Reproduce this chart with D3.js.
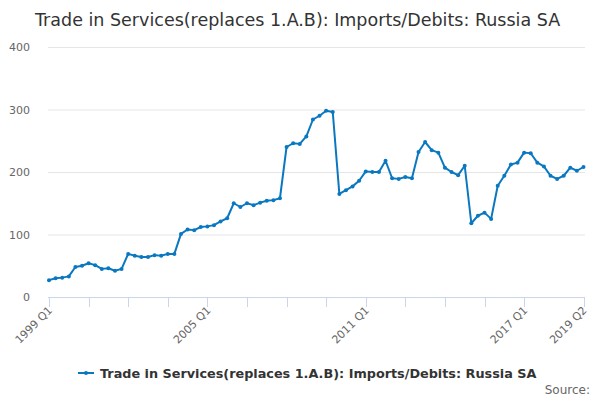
<!DOCTYPE html>
<html>
<head>
<meta charset="utf-8">
<script src="https://cdn.jsdelivr.net/npm/d3@7"></script>
<style>
  body { margin: 0; background: #fff; }
  text { font-family: "DejaVu Sans", sans-serif; }
</style>
</head>
<body>
<div id="chart"></div>
<script>
// quarterly series 1999 Q1 .. 2019 Q2
const startYear = 1999;
const values = [
  27, 30, 31, 33, 48, 50, 54, 51, 45, 46, 42, 45,
  69, 66, 64, 64, 67, 66, 69, 69, 101, 108, 107, 112,
  113, 115, 121, 126, 150, 144, 150, 147, 151, 154, 155, 158,
  240, 246, 245, 257, 284, 290, 298, 296, 165, 171, 177, 186,
  201, 200, 200, 218, 190, 189, 192, 190, 232, 248, 235, 231,
  207, 200, 195, 210, 118, 130, 135, 125, 178, 194, 212, 215,
  231, 230, 215, 209, 194, 189, 194, 207, 202, 208
];
const quarters = values.map((v, i) => (startYear + Math.floor(i / 4)) + " Q" + (i % 4 + 1));
const yTicks = [0, 100, 200, 300, 400];
const xTickIdx = [0, 6, 12, 18, 24, 30, 36, 42, 48, 54, 60, 66, 72, 81];
const xLabelIdx = [0, 24, 48, 72, 81];
const seriesName = "Trade in Services(replaces 1.A.B): Imports/Debits: Russia SA";
const color = "#0a78c0";

const width = 600, height = 400;
const margin = { top: 47, right: 15, bottom: 103, left: 48 };

const svg = d3.select("#chart").append("svg")
  .attr("width", width)
  .attr("height", height);

const x = d3.scaleLinear().domain([0, values.length - 1]).range([margin.left + 1, 583.5]);
const y = d3.scaleLinear().domain([0, 400]).range([height - margin.bottom, margin.top]);

// title
svg.append("text")
  .attr("x", 35).attr("y", 26)
  .attr("font-size", 17.5).attr("fill", "#333")
  .text(seriesName);

// grid + y labels
svg.append("g").selectAll("line").data(yTicks.filter(d => d > 0)).join("line")
  .attr("x1", margin.left).attr("x2", 585)
  .attr("y1", d => y(d) + 0.5).attr("y2", d => y(d) + 0.5)
  .attr("stroke", "#e6e6e6");

svg.append("g").selectAll("text").data(yTicks).join("text")
  .attr("x", 30).attr("y", d => y(d) + 4)
  .attr("text-anchor", "end")
  .attr("font-size", 11).attr("fill", "#666")
  .text(d => d);

// x axis
const ax = svg.append("g");
ax.append("line")
  .attr("x1", margin.left).attr("x2", 585)
  .attr("y1", y(0) + 0.5).attr("y2", y(0) + 0.5)
  .attr("stroke", "#ccd6eb");
ax.selectAll("line.tick").data(xTickIdx).join("line")
  .attr("class", "tick")
  .attr("x1", d => Math.round(x(d)) + 0.5).attr("x2", d => Math.round(x(d)) + 0.5)
  .attr("y1", y(0)).attr("y2", y(0) + 10)
  .attr("stroke", "#ccd6eb");
ax.selectAll("text").data(xLabelIdx).join("text")
  .attr("text-anchor", "end")
  .attr("font-size", 11).attr("fill", "#666")
  .attr("transform", d => `translate(${x(d) + 4},${y(0) + 14}) rotate(-45)`)
  .text(d => quarters[d]);

// line
const line = d3.line().x((d, i) => x(i)).y(d => y(d));
svg.append("path")
  .datum(values)
  .attr("fill", "none")
  .attr("stroke", color)
  .attr("stroke-width", 2)
  .attr("stroke-linejoin", "round")
  .attr("d", line);

svg.append("g").selectAll("circle").data(values).join("circle")
  .attr("cx", (d, i) => x(i)).attr("cy", d => y(d))
  .attr("r", 2).attr("fill", color);

// legend
const lg = svg.append("g").attr("transform", "translate(78,373)");
lg.append("line").attr("x1", 0).attr("x2", 16).attr("y1", 0).attr("y2", 0)
  .attr("stroke", color).attr("stroke-width", 2);
lg.append("circle").attr("cx", 8).attr("cy", 0).attr("r", 2).attr("fill", color);
lg.append("text").attr("x", 22).attr("y", 5)
  .attr("font-size", 12.8).attr("font-weight", "bold").attr("fill", "#333")
  .text(seriesName);

// credits
svg.append("text")
  .attr("x", 590).attr("y", 394)
  .attr("text-anchor", "end")
  .attr("font-size", 12).attr("fill", "#666")
  .text("Source:");
</script>
</body>
</html>
